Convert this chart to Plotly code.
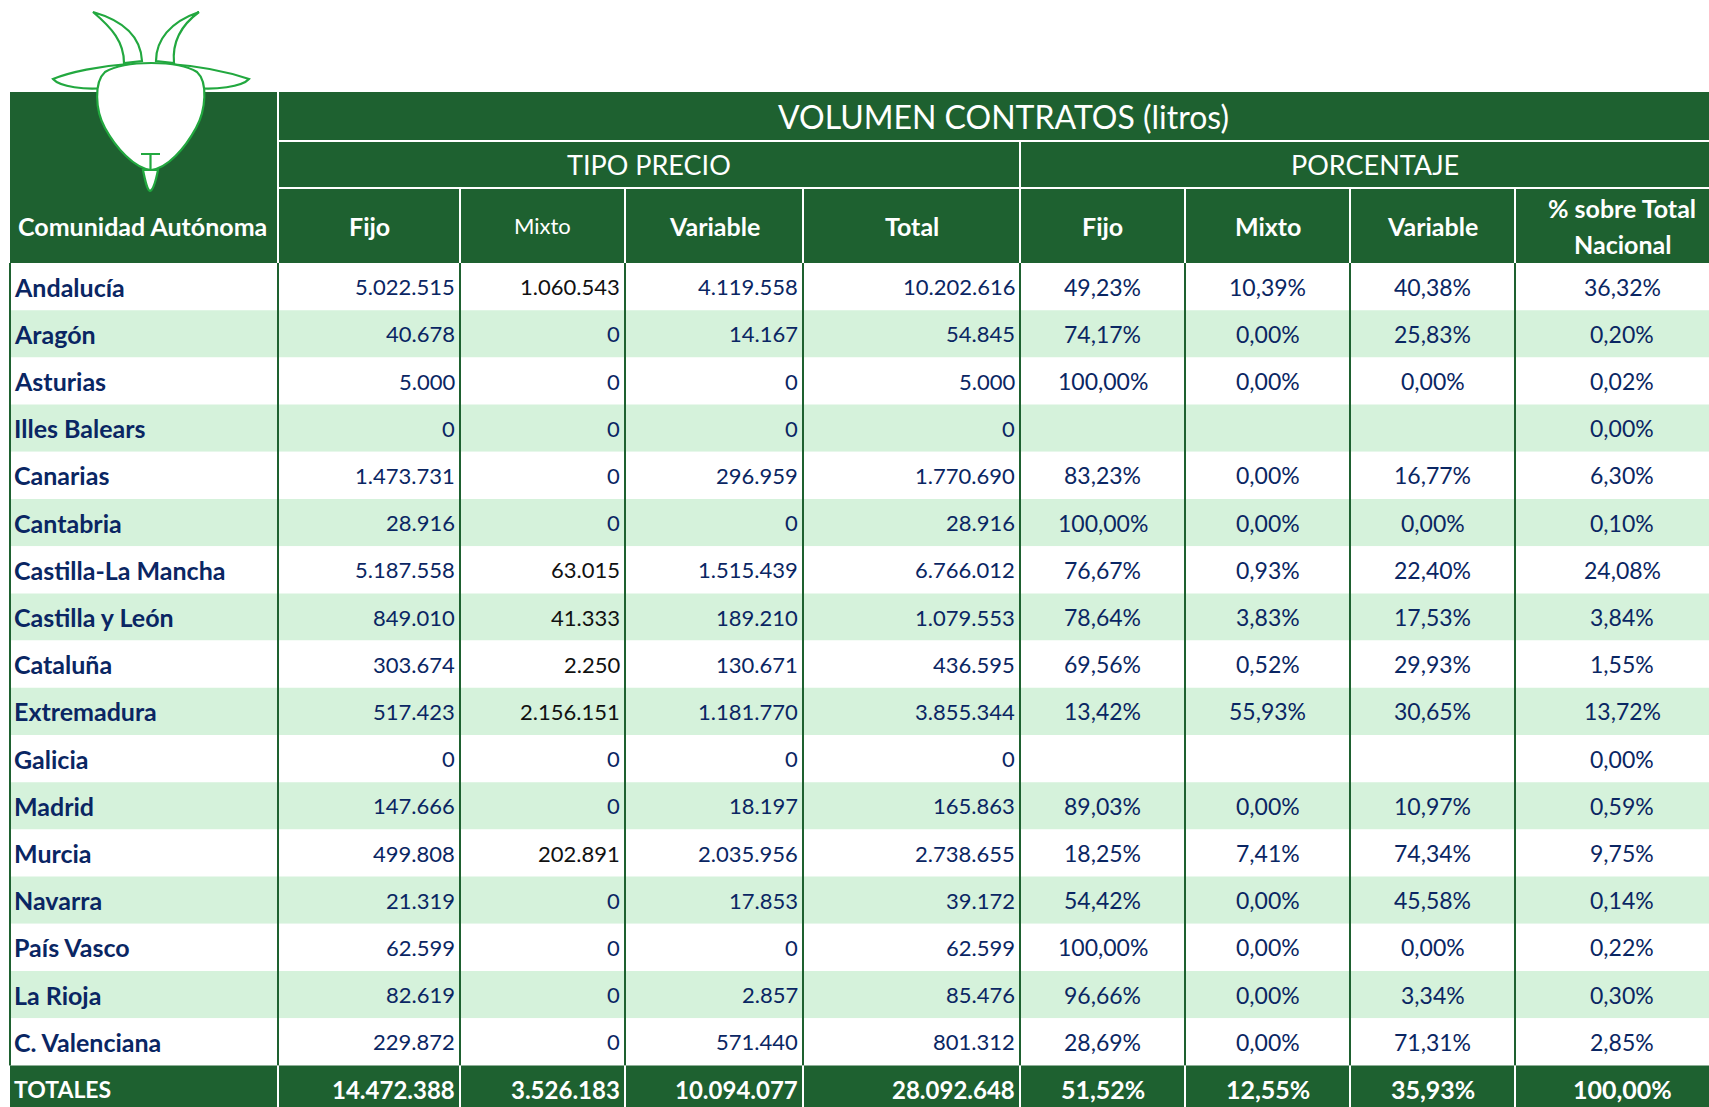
# Volumen de contratos por comunidad autónoma - tabla recreada con Plotly

import plotly.graph_objects as go

# -------- Datos --------
regiones = [
    "Andalucía", "Aragón", "Asturias", "Illes Balears", "Canarias", "Cantabria",
    "Castilla-La Mancha", "Castilla y León", "Cataluña", "Extremadura", "Galicia",
    "Madrid", "Murcia", "Navarra", "País Vasco", "La Rioja", "C. Valenciana",
]
fijo = [5022515, 40678, 5000, 0, 1473731, 28916, 5187558, 849010, 303674,
        517423, 0, 147666, 499808, 21319, 62599, 82619, 229872]
mixto = [1060543, 0, 0, 0, 0, 0, 63015, 41333, 2250,
         2156151, 0, 0, 202891, 0, 0, 0, 0]
variable = [4119558, 14167, 0, 0, 296959, 0, 1515439, 189210, 130671,
            1181770, 0, 18197, 2035956, 17853, 0, 2857, 571440]
total = [10202616, 54845, 5000, 0, 1770690, 28916, 6766012, 1079553, 436595,
         3855344, 0, 165863, 2738655, 39172, 62599, 85476, 801312]
pct_fijo = [49.23, 74.17, 100.00, None, 83.23, 100.00, 76.67, 78.64, 69.56,
            13.42, None, 89.03, 18.25, 54.42, 100.00, 96.66, 28.69]
pct_mixto = [10.39, 0.00, 0.00, None, 0.00, 0.00, 0.93, 3.83, 0.52,
             55.93, None, 0.00, 7.41, 0.00, 0.00, 0.00, 0.00]
pct_variable = [40.38, 25.83, 0.00, None, 16.77, 0.00, 22.40, 17.53, 29.93,
                30.65, None, 10.97, 74.34, 45.58, 0.00, 3.34, 71.31]
pct_nacional = [36.32, 0.20, 0.02, 0.00, 6.30, 0.10, 24.08, 3.84, 1.55,
                13.72, 0.00, 0.59, 9.75, 0.14, 0.22, 0.30, 2.85]
totales_vol = [14472388, 3526183, 10094077, 28092648]
totales_pct = [51.52, 12.55, 35.93, 100.00]

col_headers = ["Fijo", "Mixto", "Variable", "Total", "Fijo", "Mixto", "Variable"]

# -------- Estilo / geometría (pixeles de página) --------
GREEN = "#1E6130"
LIGHT = "#D5F2DB"
NAVY = "#0A2663"
LOGO = "#22A83F"
FONT = "Lato"
W, H = 1709, 1107

X = [10, 278, 460, 625, 803, 1020, 1185, 1350, 1515, 1729]
Y_TITLE, Y_SUB, Y_COLS, DATA_TOP = 92, 141, 188, 263
ROW_H = 47.2
N = len(regiones)
TOT_TOP = DATA_TOP + N * ROW_H

shapes, anns = [], []


def rect(x0, y0, x1, y1, fill):
    shapes.append(dict(type="rect", xref="x", yref="y", x0=x0, y0=y0, x1=x1, y1=y1,
                       fillcolor=fill, line=dict(width=0), layer="below"))


def line(x0, y0, x1, y1, color, w=2):
    shapes.append(dict(type="line", xref="x", yref="y", x0=x0, y0=y0, x1=x1, y1=y1,
                       line=dict(color=color, width=w), layer="below"))


def txt(x, y, s, size, color, bold=False, anchor="center"):
    anns.append(dict(x=x, y=y, xref="x", yref="y", showarrow=False,
                     text=f"<b>{s}</b>" if bold else s, xanchor=anchor, yanchor="middle",
                     font=dict(family=FONT, size=size, color=color)))


def fmt_int(v):
    return f"{v:,}".replace(",", ".")


def fmt_pct(v):
    return "" if v is None else f"{v:.2f}".replace(".", ",") + "%"


# -------- Cabecera --------
rect(X[0], Y_TITLE, X[-1], DATA_TOP, GREEN)
line(X[1], Y_TITLE, X[1], DATA_TOP, "white")
line(X[1], Y_SUB, X[-1], Y_SUB, "white")
line(X[1], Y_COLS, X[-1], Y_COLS, "white")
line(X[5], Y_SUB, X[5], DATA_TOP, "white")
for xe in X[2:9]:
    line(xe, Y_COLS, xe, DATA_TOP, "white")

txt((X[1] + X[-1]) / 2, (Y_TITLE + Y_SUB) / 2, "VOLUMEN CONTRATOS (litros)", 32, "white")
txt((X[1] + X[5]) / 2, (Y_SUB + Y_COLS) / 2, "TIPO PRECIO", 27, "white")
txt((X[5] + X[-1]) / 2, (Y_SUB + Y_COLS) / 2, "PORCENTAJE", 27, "white")
yc = (Y_COLS + DATA_TOP) / 2
txt(X[0] + 6, yc, "Comunidad Autónoma", 25, "white", bold=True, anchor="left")
for j, h in enumerate(col_headers):
    cx = (X[j + 1] + X[j + 2]) / 2
    if j == 1:
        txt(cx, yc, h, 22, "white")
    else:
        txt(cx, yc, h, 25, "white", bold=True)
txt((X[8] + X[9]) / 2, yc - 18, "% sobre Total", 25, "white", bold=True)
txt((X[8] + X[9]) / 2, yc + 18, "Nacional", 25, "white", bold=True)

# -------- Filas de datos --------
for i, reg in enumerate(regiones):
    y0 = DATA_TOP + i * ROW_H
    ym = y0 + ROW_H / 2
    rect(X[0], y0, X[-1], y0 + ROW_H, LIGHT if i % 2 else "white")
    txt(X[0] + 2, ym, reg, 25, NAVY, bold=True, anchor="left")
    vols = [fijo[i], mixto[i], variable[i], total[i]]
    for j, v in enumerate(vols):
        color = "#111111" if (j == 1 and v != 0) else NAVY
        txt(X[j + 2] - 3, ym, fmt_int(v), 22, color, anchor="right")
    pcts = [pct_fijo[i], pct_mixto[i], pct_variable[i], pct_nacional[i]]
    for j, p in enumerate(pcts):
        s = fmt_pct(p)
        if s:
            txt((X[j + 5] + X[j + 6]) / 2, ym, s, 23, NAVY)

for xe in X[:9]:
    line(xe, DATA_TOP, xe, TOT_TOP, GREEN, 2)

# -------- Totales --------
rect(X[0], TOT_TOP, X[-1], TOT_TOP + ROW_H, GREEN)
for xe in X[1:9]:
    line(xe, TOT_TOP, xe, TOT_TOP + ROW_H, "white")
ym = TOT_TOP + ROW_H / 2
txt(X[0] + 2, ym, "TOTALES", 23, "white", bold=True, anchor="left")
for j, v in enumerate(totales_vol):
    txt(X[j + 2] - 3, ym, fmt_int(v), 24, "white", bold=True, anchor="right")
for j, p in enumerate(totales_pct):
    txt((X[j + 5] + X[j + 6]) / 2, ym, fmt_pct(p), 25, "white", bold=True)

# -------- Logo (cabra) --------
logo_paths = [
    # cuernos
    "M93,12 C112,28 124,42 124,63 L142,61 C141,40 128,22 93,12 Z",
    "M199,12 C180,26 172,42 174,63 L156,61 C156,40 170,22 199,12 Z",
    # orejas
    "M128,64 C100,66 70,72 53,79 C60,87 86,90 104,88 Z",
    "M170,64 C198,66 228,72 249,79 C242,87 214,90 196,88 Z",
    # cabeza
    "M105,72 C125,60 178,60 197,72 C208,82 206,110 196,128 "
    "C185,148 168,168 151,170 C134,168 116,148 105,128 C95,110 94,82 105,72 Z",
    # barba
    "M143,170 C145,180 147,190 150,191 C153,190 156,180 158,170 Z",
]
for p in logo_paths:
    shapes.append(dict(type="path", xref="x", yref="y", path=p, fillcolor="white",
                       line=dict(color=LOGO, width=2.2), layer="above"))
shapes.append(dict(type="path", xref="x", yref="y", path="M141,154 L160,154 M150.5,154 L150.5,170",
                   line=dict(color=LOGO, width=2.2), layer="above"))

# -------- Figura --------
fig = go.Figure(go.Scatter(x=[], y=[], hoverinfo="skip", showlegend=False))
fig.update_layout(
    width=W, height=H, autosize=False,
    margin=dict(l=0, r=0, t=0, b=0, pad=0),
    paper_bgcolor="white", plot_bgcolor="white",
    xaxis=dict(range=[0, W], visible=False, fixedrange=True),
    yaxis=dict(range=[H, 0], visible=False, fixedrange=True),
    shapes=shapes, annotations=anns, showlegend=False,
    font=dict(family=FONT),
)
fig.write_html("out.html", config={"displayModeBar": False},
               post_script="document.body.style.margin='0';document.body.style.overflow='hidden';")
